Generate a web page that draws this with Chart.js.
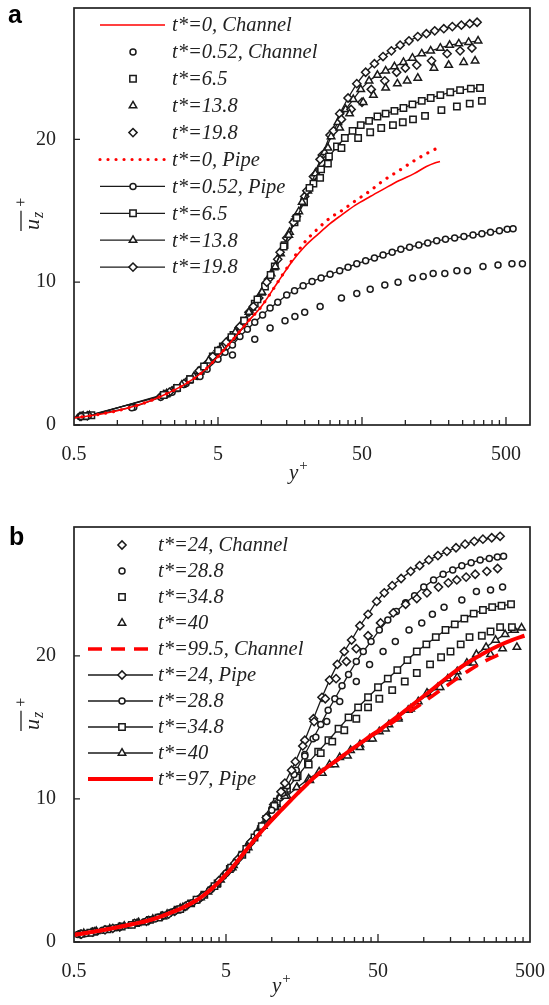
<!DOCTYPE html>
<html lang="en">
<head>
<meta charset="UTF-8">
<title>Mean velocity profiles, channel vs pipe</title>
<script src="https://cdn.jsdelivr.net/npm/chart.js"></script>
<style>
  html,body{margin:0;padding:0;background:#fff}
  body{width:549px;height:1005px;position:relative;overflow:hidden}
  canvas{position:absolute;left:0}
  #chartA{top:0}
  #chartB{top:500px}
</style>
</head>
<body>
<canvas id="chartA" width="549" height="500"></canvas>
<canvas id="chartB" width="549" height="505"></canvas>
<script>
/* ---------- data: [y+, u_z+] ---------- */
// panel a
const labelsA = ['t*=0, Channel','t*=0.52, Channel','t*=6.5','t*=13.8','t*=19.8',
                 't*=0, Pipe','t*=0.52, Pipe','t*=6.5','t*=13.8','t*=19.8'];
const a_ch0 = [[0.5,0.5],[0.7,0.7],[1,1],[1.5,1.5],[2,2],[3,2.9],[4,3.8],[5,4.8],[6.5,6.1],[8,7.2],[10,8.3],[13,10.0],[16.5,11.5],[20,12.5],[25,13.4],[30,14.1],[36,14.7],[45,15.4],[57,16.0],[70,16.5],[90,17.1],[115,17.6],[140,18.1],[160,18.35],[174,18.45]];
const a_ch052 = [[0.56,0.6],[1.26,1.2],[3.75,3.4],[6.3,4.9],[9,6.0],[11.5,6.8],[14.6,7.3],[17.1,7.6],[20,7.9],[25.6,8.3],[36,8.9],[46,9.2],[57,9.5],[72,9.8],[89,10.0],[112,10.3],[133,10.4],[156,10.6],[188,10.6],[228,10.8],[270,10.8],[346,11.1],[440,11.2],[550,11.3],[650,11.3]];
const a_ch65 = [[0.6,0.62],[2.1,2.1],[2.6,2.6],[3.2,3.2],[4.0,4.1],[5.0,5.2],[6.2,6.15],[7.6,7.3],[9.4,8.8],[11.6,10.5],[14.3,12.5],[17.6,14.5],[21.6,16.6],[25.6,17.3],[29,18.3],[36,19.4],[47,20.1],[57,20.5],[68,20.8],[82,21.0],[96,21.2],[113,21.4],[137,21.65],[178,22.05],[228,22.3],[280,22.5],[340,22.7]];
const a_ch138 = [[0.58,0.62],[2.2,2.2],[2.8,2.8],[3.4,3.4],[4.3,4.5],[5.3,5.4],[6.6,6.5],[8.2,7.9],[10.1,9.3],[12.5,11.1],[15.5,13.3],[19.2,15.6],[23.7,17.6],[29,19.4],[35,20.8],[41,21.8],[51,22.6],[60,23.1],[73,23.6],[88,23.9],[103,24.1],[122,24.3],[158,25.0],[200,25.2],[254,25.4],[305,25.5]];
const a_ch198 = [[0.56,0.6],[2.3,2.3],[2.9,2.9],[3.7,3.8],[4.6,4.8],[5.7,5.8],[7.1,6.9],[8.8,8.3],[10.9,10.0],[13.5,12.1],[16.7,14.2],[20.7,16.4],[25.6,18.6],[31.7,20.6],[36,21.4],[42,22.1],[50,22.6],[58,23.5],[72,24.1],[87,24.7],[100,25.0],[120,25.2],[152,25.5],[195,26.0],[240,26.2],[290,26.4]];
const a_pp0 = [[0.5,0.5],[0.7,0.7],[1,1],[1.5,1.5],[2,2],[3,2.9],[4,3.8],[5,4.8],[6.5,6.1],[8,7.2],[10,8.3],[13,10.0],[16.5,11.6],[20,12.8],[25,13.8],[30,14.5],[36,15.0],[45,15.7],[57,16.4],[70,17.1],[90,17.8],[115,18.5],[140,19.0],[160,19.3],[174,19.45]];
const a_pp052 = [[0.55,0.6],[0.63,0.66],[1.3,1.25],[2,1.95],[2.4,2.3],[3,2.9],[3.6,3.4],[4.2,3.9],[5,4.6],[5.6,5.1],[6.3,5.6],[7.1,6.2],[8,6.7],[9,7.2],[10.2,7.7],[11.5,8.2],[13,8.6],[15,9.1],[17,9.4],[19.5,9.75],[22.5,10.05],[26,10.3],[30,10.55],[35,10.8],[40,11.05],[46,11.3],[53,11.5],[61,11.7],[70,11.9],[81,12.1],[93,12.3],[107,12.45],[124,12.6],[143,12.75],[165,12.9],[190,13.0],[220,13.1],[255,13.2],[295,13.3],[340,13.4],[390,13.5],[450,13.6],[510,13.7],[560,13.75]];
const a_pp65 = [[0.58,0.6],[0.66,0.68],[2.2,2.2],[2.6,2.6],[3.2,3.2],[3.8,3.8],[4.6,4.8],[5.4,5.5],[6.4,6.3],[7.6,7.3],[9,8.5],[10.6,9.7],[12.4,11.1],[14.5,12.6],[17,14.2],[19.8,15.6],[23,16.9],[26,17.9],[29.5,18.8],[33.5,19.5],[38,20.1],[43,20.6],[49,21.0],[56,21.3],[64,21.6],[73,21.8],[84,22.0],[97,22.2],[112,22.45],[130,22.7],[150,22.9],[175,23.1],[205,23.3],[240,23.45],[285,23.55],[330,23.6]];
const a_pp138 = [[0.57,0.6],[0.64,0.66],[2.1,2.1],[2.5,2.5],[3.1,3.1],[3.7,3.7],[4.4,4.6],[5.2,5.35],[6.2,6.15],[7.3,7.05],[8.6,8.2],[10,9.25],[11.7,10.6],[13.6,12.0],[15.7,13.5],[18.2,14.95],[21,16.4],[24,17.7],[27.5,19.1],[30.5,20.2],[34,21.2],[38.5,22.1],[43.5,22.8],[49,23.5],[56,24.1],[64,24.5],[73,24.8],[84,25.1],[97,25.4],[112,25.7],[130,26.0],[150,26.2],[175,26.4],[203,26.6],[235,26.7],[275,26.8],[320,26.9]];
const a_pp198 = [[0.55,0.6],[0.62,0.65],[2,2.0],[2.4,2.4],[3,3.0],[3.6,3.6],[4.2,4.3],[5,5.2],[6,6.0],[7,6.8],[8.2,7.9],[9.6,8.9],[11.2,10.2],[13,11.6],[15,13.1],[17.5,14.6],[20,16.0],[23,17.4],[26.5,18.9],[30,20.3],[35,21.8],[40,22.9],[46,23.9],[53,24.7],[61,25.3],[70,25.8],[80,26.2],[92,26.6],[106,26.9],[122,27.2],[140,27.4],[160,27.6],[185,27.75],[212,27.9],[245,28.0],[280,28.1],[315,28.2]];

// panel b
const labelsB = ['t*=24, Channel','t*=28.8','t*=34.8','t*=40','t*=99.5, Channel',
                 't*=24, Pipe','t*=28.8','t*=34.8','t*=40','t*=97, Pipe'];
const b_ch24 = [[0.56,0.55],[0.9,0.95],[1.5,1.45],[2.1,1.95],[2.7,2.5],[3.5,3.2],[4.5,4.3],[5.7,5.5],[7.3,7.0],[9.2,8.7],[11.5,10.5],[13.5,12.0],[16,13.7],[19,15.4],[22.5,17.0],[26.5,18.4],[31,19.6],[36,20.5],[43,21.4],[52,22.3],[63,23.0],[76,23.6],[90,24.0],[105,24.4],[125,24.8],[145,25.1],[165,25.3],[190,25.5],[218,25.7],[260,25.9],[306,26.1]];
const b_ch288 = [[0.6,0.6],[1.0,1.05],[1.7,1.6],[2.3,2.15],[3.0,2.75],[3.9,3.6],[5.0,4.8],[6.3,6.1],[8,7.6],[10,9.2],[11.8,10.4],[14,11.7],[16.5,13.0],[19.5,14.3],[23,15.4],[28,16.8],[36,18.2],[44,19.4],[54,20.3],[65,21.0],[80,21.8],[97,22.3],[114,22.9],[136,23.4],[178,23.9],[222,24.5],[275,24.6],[330,24.8]];
const b_ch348 = [[0.64,0.65],[1.2,1.2],[1.8,1.7],[2.5,2.3],[3.2,2.95],[4.2,3.9],[5.4,5.2],[6.8,6.5],[8.6,8.1],[10.4,9.5],[12,10.5],[14.5,11.5],[17.5,12.4],[21,13.2],[25,14.0],[30,14.8],[36,15.6],[43,16.4],[51,17.0],[62,17.6],[75,18.2],[90,18.8],[110,19.4],[130,19.9],[150,20.3],[175,20.8],[200,21.3],[241,21.4],[275,21.7],[318,22.0],[380,22.0]];
const b_ch40 = [[0.68,0.7],[1.3,1.3],[1.9,1.8],[2.6,2.4],[3.4,3.1],[4.3,4.0],[5.5,5.2],[7.0,6.6],[8.8,8.1],[10.6,9.4],[12.2,10.2],[14.6,10.8],[17.8,11.3],[21.5,11.8],[26,12.4],[31.5,13.0],[38,13.6],[46,14.2],[56,14.9],[68,15.6],[82,16.3],[105,17.4],[128,17.8],[166,18.5],[213,19.5],[275,20.1],[330,20.5],[410,20.6]];
const b_ch995 = [[0.5,0.5],[0.75,0.8],[1.1,1.15],[1.6,1.55],[2.05,1.95],[2.6,2.4],[3.4,3.1],[4.4,4.1],[5.6,5.3],[7,6.6],[9,8.0],[11.5,9.2],[15.5,10.6],[20,11.7],[26,12.6],[33,13.4],[42,14.2],[54,14.9],[70,15.7],[95,16.6],[125,17.5],[160,18.3],[200,19.0],[250,19.6],[300,20.0],[340,20.2]];
const b_pp24 = [[0.55,0.55],[0.66,0.7],[0.8,0.85],[1.0,1.05],[1.25,1.3],[1.55,1.5],[1.9,1.8],[2.3,2.15],[2.8,2.6],[3.4,3.1],[4.1,3.8],[5,4.8],[6,5.8],[7.2,6.9],[8.6,8.1],[10.3,9.6],[12.2,11.1],[14.3,12.6],[16.5,14.1],[18.8,15.6],[21.4,17.1],[24,18.3],[27,19.4],[30,20.3],[33.5,21.1],[38,22.1],[43,22.9],[49,23.8],[55,24.4],[62,24.9],[71,25.4],[82,25.9],[94,26.3],[108,26.7],[124,27.0],[142,27.3],[163,27.55],[187,27.8],[215,28.0],[245,28.15],[280,28.25],[318,28.35]];
const b_pp288 = [[0.53,0.52],[0.63,0.65],[0.77,0.82],[0.95,1.0],[1.18,1.2],[1.45,1.42],[1.8,1.75],[2.2,2.1],[2.7,2.5],[3.3,3.0],[4.0,3.7],[4.8,4.6],[5.8,5.6],[7.0,6.7],[8.4,7.9],[10,9.3],[11.3,10.1],[12.6,10.9],[14.5,12.0],[16.5,13.1],[18.7,14.2],[21,15.2],[23.5,16.2],[26,17.0],[29,17.9],[32,18.7],[36,19.6],[40,20.3],[45,21.0],[51,21.8],[58,22.5],[66,23.1],[76,23.7],[87,24.2],[100,24.8],[116,25.3],[134,25.7],[155,26.0],[178,26.3],[205,26.5],[235,26.7],[270,26.8],[305,26.9],[335,26.95]];
const b_pp348 = [[0.56,0.57],[0.68,0.72],[0.83,0.88],[1.03,1.08],[1.28,1.32],[1.58,1.55],[1.95,1.85],[2.4,2.25],[2.95,2.7],[3.6,3.3],[4.4,4.1],[5.3,5.1],[6.4,6.1],[7.7,7.3],[9.2,8.6],[10.8,9.8],[12.6,10.7],[14.8,11.6],[17.3,12.5],[20.2,13.3],[23.6,14.1],[27.5,14.9],[32,15.7],[37,16.4],[43,17.1],[50,17.8],[58,18.4],[67,19.0],[78,19.7],[90,20.3],[104,20.8],[120,21.3],[139,21.8],[160,22.2],[185,22.6],[213,22.95],[245,23.2],[282,23.4],[325,23.5],[375,23.6]];
const b_pp40 = [[0.58,0.6],[0.7,0.75],[0.86,0.92],[1.07,1.12],[1.33,1.36],[1.65,1.6],[2.05,1.95],[2.5,2.35],[3.1,2.85],[3.8,3.5],[4.6,4.35],[5.6,5.35],[6.7,6.4],[8,7.6],[9.4,8.8],[10.8,9.6],[12.6,10.2],[14.7,10.8],[17.5,11.4],[20.5,11.9],[24,12.4],[28,12.9],[33,13.4],[38,13.8],[44,14.2],[51,14.7],[59,15.2],[68,15.7],[79,16.2],[92,16.8],[107,17.3],[124,17.8],[144,18.4],[166,18.9],[192,19.5],[222,20.1],[257,20.6],[297,21.1],[343,21.5],[395,21.8],[440,21.95]];
const b_pp97 = [[0.5,0.5],[0.75,0.8],[1.1,1.15],[1.6,1.55],[2.05,1.95],[2.6,2.4],[3.4,3.1],[4.4,4.1],[5.6,5.3],[7,6.6],[9,8.0],[11.5,9.2],[15.5,10.6],[20,11.7],[26,12.6],[33,13.4],[42,14.2],[54,15.0],[70,15.9],[95,17.0],[125,18.0],[160,18.9],[200,19.6],[250,20.2],[310,20.7],[380,21.1],[460,21.4]];

// axes
const xTickValues = [0.5, 5, 50, 500];
const xTickLabels = ['0.5', '5', '50', '500'];
const xMinorTicks = [1,1.5,2,2.5,3,3.5,4,4.5, 10,15,20,25,30,35,40,45, 100,150,200,250,300,350,400,450];
const yTickValues = [0, 10, 20];

/* ---------- helpers ---------- */
const SERIF = '"Liberation Serif", "Times New Roman", serif';
const INK = '#1a1a1a';
const RED = '#ff0000';
const R = {circle: 3.0, rect: 4.5, triangle: 4.3, rectRot: 4.1};

function pipeSet(label, data, style) {
  return {label, data, showLine: true, borderColor: INK, borderWidth: 1.3,
    pointStyle: style, pointRadius: R[style], pointBorderColor: INK,
    pointBackgroundColor: '#fff', pointBorderWidth: 1.5, order: 2};
}
function chanSet(label, data, style) {
  return {label, data, showLine: false, borderColor: INK, borderWidth: 0,
    pointStyle: style, pointRadius: R[style], pointBorderColor: INK,
    pointBackgroundColor: '#fff', pointBorderWidth: 1.5, order: 2};
}
function redSet(label, data, width, dash, cap) {
  return {label, data, showLine: true, borderColor: RED, borderWidth: width,
    borderDash: dash, borderCapStyle: cap, pointRadius: 0,
    cubicInterpolationMode: 'monotone', order: 1};
}

// frame, inward ticks, legend and axis titles
const decor = {
  id: 'decor',
  afterDraw(chart, args, o) {
    const {ctx, chartArea: ca} = chart;
    const xs = chart.scales.x, ys = chart.scales.y;
    ctx.save();
    ctx.strokeStyle = '#222';
    ctx.lineWidth = 1.3;
    ctx.beginPath();
    xTickValues.forEach(v => {
      const px = xs.getPixelForValue(v);
      if (px > ca.left + 2 && px < ca.right - 2) { ctx.moveTo(px, ca.bottom); ctx.lineTo(px, ca.bottom - 8); }
    });
    xMinorTicks.forEach(v => {
      if (v >= xs.max) return;
      const px = xs.getPixelForValue(v);
      ctx.moveTo(px, ca.bottom); ctx.lineTo(px, ca.bottom - 5);
    });
    yTickValues.forEach(v => {
      const py = ys.getPixelForValue(v);
      ctx.moveTo(ca.left, py); ctx.lineTo(ca.left + 6, py);
    });
    ctx.stroke();
    ctx.lineWidth = 1.7;
    ctx.strokeRect(ca.left, ca.top, ca.right - ca.left, ca.bottom - ca.top);

    // legend
    const lg = o.legend;
    chart.data.datasets.forEach((ds, i) => {
      const y = lg.top + i * lg.step;
      if (ds.showLine) {
        ctx.save();
        ctx.strokeStyle = ds.borderColor;
        ctx.lineWidth = ds.borderWidth;
        ctx.setLineDash(ds.borderDash || []);
        ctx.lineCap = ds.borderCapStyle || 'butt';
        ctx.beginPath(); ctx.moveTo(lg.x0, y); ctx.lineTo(lg.x1, y); ctx.stroke();
        ctx.restore();
      }
      if (ds.pointRadius > 0) {
        ctx.fillStyle = ds.pointBackgroundColor;
        ctx.strokeStyle = ds.pointBorderColor;
        ctx.lineWidth = ds.pointBorderWidth;
        ctx.setLineDash([]);
        Chart.helpers.drawPoint(ctx, {pointStyle: ds.pointStyle, radius: ds.pointRadius,
          borderWidth: ds.pointBorderWidth, rotation: 0}, lg.mx, y);
      }
      ctx.fillStyle = '#222';
      ctx.font = 'italic 20.5px ' + SERIF;
      ctx.textAlign = 'left';
      ctx.textBaseline = 'middle';
      ctx.fillText(ds.label, lg.tx, y + 1);
    });

    // panel letter
    ctx.fillStyle = '#000';
    ctx.font = 'bold 25px "Liberation Sans", Arial, sans-serif';
    ctx.textAlign = 'left';
    ctx.textBaseline = 'alphabetic';
    ctx.fillText(o.letter.text, o.letter.x, o.letter.y);

    // x title: y+
    ctx.fillStyle = '#222';
    ctx.font = 'italic 21px ' + SERIF;
    ctx.fillText('y', o.xTitle.x, o.xTitle.y);
    const wy = ctx.measureText('y').width;
    ctx.font = '15px ' + SERIF;
    ctx.fillText('+', o.xTitle.x + wy + 1, o.xTitle.y - 9);

    // y title: overlined u_z with +
    ctx.save();
    ctx.translate(o.yTitle.x, o.yTitle.y);
    ctx.rotate(-Math.PI / 2);
    ctx.font = 'italic 22px ' + SERIF;
    ctx.fillText('u', 0, 0);
    const wu = ctx.measureText('u').width;
    ctx.font = 'italic 16px ' + SERIF;
    ctx.fillText('z', wu + 1, 4);
    const wz = ctx.measureText('z').width;
    ctx.strokeStyle = '#222';
    ctx.lineWidth = 1.3;
    ctx.beginPath(); ctx.moveTo(-1, -18); ctx.lineTo(wu + wz + 2, -18); ctx.stroke();
    ctx.font = '16px ' + SERIF;
    ctx.fillText('+', wu + wz + 6, -13);
    ctx.restore();

    ctx.restore();
  }
};

function makeChart(id, datasets, cfg) {
  return new Chart(document.getElementById(id), {
    type: 'scatter',
    data: {datasets},
    options: {
      responsive: false,
      animation: false,
      devicePixelRatio: 1,
      layout: {padding: {left: 0, top: cfg.top, right: 19, bottom: 0}},
      plugins: {legend: {display: false}, tooltip: {enabled: false}, decor: cfg.decor},
      elements: {line: {tension: 0}},
      scales: {
        x: {
          type: 'logarithmic', min: 0.5, max: cfg.xMax,
          grid: {display: false, drawTicks: false}, border: {display: false},
          afterBuildTicks: s => { s.ticks = xTickValues.filter(v => v <= s.max + 1).map(v => ({value: v})); },
          afterFit: s => { s.height = cfg.xHeight; s.paddingLeft = 0; s.paddingRight = 0; },
          ticks: {autoSkip: false, maxRotation: 0, padding: 18, color: '#222',
            font: {family: SERIF, size: 20},
            callback: v => xTickLabels[xTickValues.indexOf(v)]}
        },
        y: {
          type: 'linear', min: 0, max: cfg.yMax,
          grid: {display: false, drawTicks: false}, border: {display: false},
          afterBuildTicks: s => { s.ticks = yTickValues.map(v => ({value: v})); },
          afterFit: s => { s.width = 74; s.paddingTop = 0; s.paddingBottom = 0; },
          ticks: {padding: 18, color: '#222', font: {family: SERIF, size: 20},
            callback: v => String(v)}
        }
      }
    },
    plugins: [decor]
  });
}

if (typeof Chart !== 'undefined') {
  makeChart('chartA', [
    redSet(labelsA[0], a_ch0, 1.6, [], 'butt'),
    chanSet(labelsA[1], a_ch052, 'circle'),
    chanSet(labelsA[2], a_ch65, 'rect'),
    chanSet(labelsA[3], a_ch138, 'triangle'),
    chanSet(labelsA[4], a_ch198, 'rectRot'),
    redSet(labelsA[5], a_pp0, 3.2, [0.01, 8], 'round'),
    pipeSet(labelsA[6], a_pp052, 'circle'),
    pipeSet(labelsA[7], a_pp65, 'rect'),
    pipeSet(labelsA[8], a_pp138, 'triangle'),
    pipeSet(labelsA[9], a_pp198, 'rectRot')
  ], {
    top: 8, xHeight: 75, xMax: 734, yMax: 29.2,
    decor: {
      legend: {top: 25, step: 26.9, x0: 100, x1: 165, mx: 133, tx: 172},
      letter: {text: 'a', x: 8, y: 23},
      xTitle: {x: 289, y: 479},
      yTitle: {x: 39, y: 230}
    }
  });

  makeChart('chartB', [
    chanSet(labelsB[0], b_ch24, 'rectRot'),
    chanSet(labelsB[1], b_ch288, 'circle'),
    chanSet(labelsB[2], b_ch348, 'rect'),
    chanSet(labelsB[3], b_ch40, 'triangle'),
    redSet(labelsB[4], b_ch995, 3.6, [14, 9], 'butt'),
    pipeSet(labelsB[5], b_pp24, 'rectRot'),
    pipeSet(labelsB[6], b_pp288, 'circle'),
    pipeSet(labelsB[7], b_pp348, 'rect'),
    pipeSet(labelsB[8], b_pp40, 'triangle'),
    redSet(labelsB[9], b_pp97, 4, [], 'butt')
  ], {
    top: 27, xHeight: 63, xMax: 500, yMax: 29.0,
    decor: {
      legend: {top: 45, step: 26, x0: 88, x1: 153, mx: 122, tx: 158},
      letter: {text: 'b', x: 9, y: 45},
      xTitle: {x: 272, y: 492},
      yTitle: {x: 39, y: 230}
    }
  });
}
</script>
</body>
</html>
